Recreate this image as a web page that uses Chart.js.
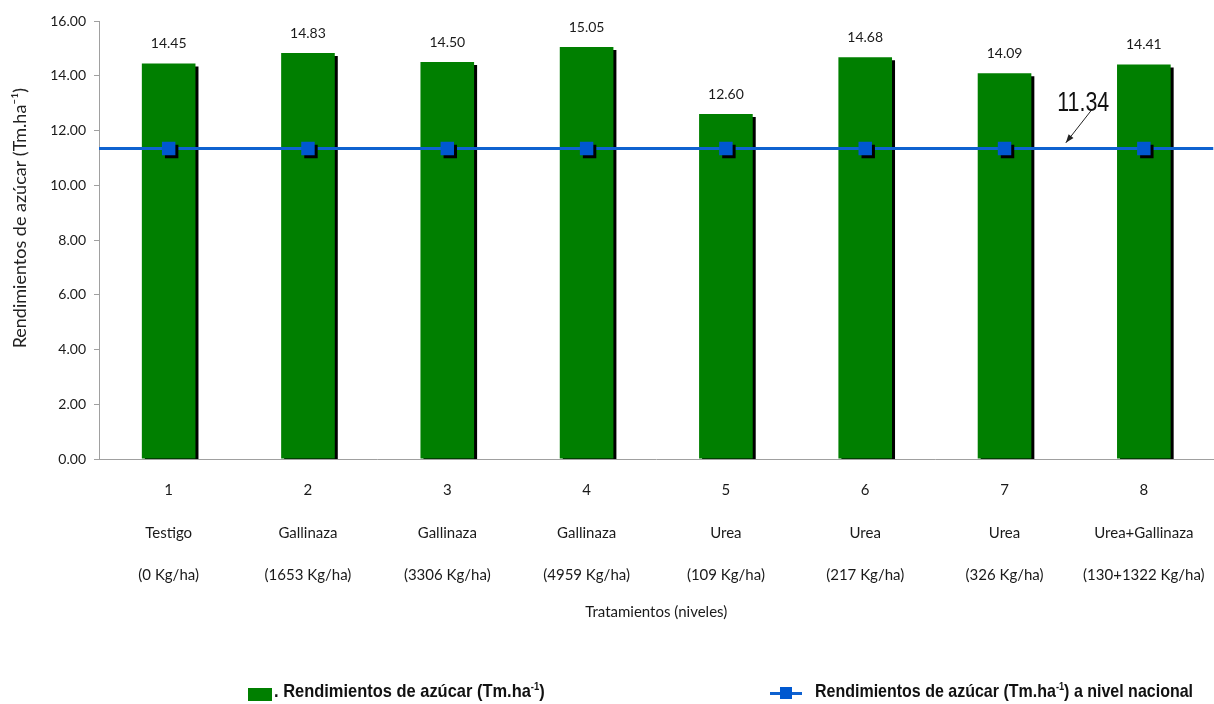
<!DOCTYPE html>
<html>
<head>
<meta charset="utf-8">
<script src="https://cdn.jsdelivr.net/npm/chart.js@4/dist/chart.umd.min.js"></script>
<style>
    html, body { margin: 0; padding: 0; overflow: hidden; background: #fff; }
    #chart { position: absolute; left: 0; top: 0; }
    .legend { position: absolute; top: 680px; font-family: "Liberation Sans", Arial, sans-serif; font-weight: bold; font-size: 19px; color: #111; white-space: nowrap; transform-origin: 0 0; }
    .legend sup { font-size: 11px; }
    .box { position: absolute; left: 248px; top: 688px; width: 24px; height: 13px; background: #007f00; }
    .ln { position: absolute; left: 770px; top: 692px; width: 32px; height: 3px; background: #0f62d0; }
    .sq { position: absolute; left: 780px; top: 687px; width: 12px; height: 12px; background: #0058d0; }
</style>
</head>
<body>
<canvas id="chart" width="1223" height="704"></canvas>
<div class="box"></div>
<div class="legend" id="leg1" style="left:274px">. Rendimientos de azúcar (Tm.ha<sup>-1</sup>)</div>
<div class="ln"></div>
<div class="sq"></div>
<div class="legend" id="leg2" style="left:815px">Rendimientos de azúcar (Tm.ha<sup>-1</sup>) a nivel nacional</div>
<script>
// data
const numeros = ['1', '2', '3', '4', '5', '6', '7', '8'];
const tratamientos = ['Testigo', 'Gallinaza', 'Gallinaza', 'Gallinaza', 'Urea', 'Urea', 'Urea', 'Urea+Gallinaza'];
const dosis = ['(0 Kg/ha)', '(1653 Kg/ha)', '(3306 Kg/ha)', '(4959 Kg/ha)', '(109 Kg/ha)', '(217 Kg/ha)', '(326 Kg/ha)', '(130+1322 Kg/ha)'];
const rendimientos = [14.45, 14.83, 14.50, 15.05, 12.60, 14.68, 14.09, 14.41];
const nacional = [11.34, 11.34, 11.34, 11.34, 11.34, 11.34, 11.34, 11.34];
const yTicks = [0, 2, 4, 6, 8, 10, 12, 14, 16];

const labels = numeros.map((n, i) => [n, tratamientos[i], dosis[i]]);

// squeeze the legend texts to the narrow look of the original
function squeeze(id, w) {
    const el = document.getElementById(id);
    el.style.transform = 'scaleX(' + (w / el.offsetWidth) + ')';
}
squeeze('leg1', 271);
squeeze('leg2', 378);

// black drop shadow behind bars and markers
const shadowPlugin = {
    id: 'shadow',
    beforeDatasetDraw(chart, args) {
        if (!chart.data.datasets[args.index].shadow) return;
        const ctx = chart.ctx;
        ctx.save();
        ctx.shadowColor = '#000';
        ctx.shadowOffsetX = 3;
        ctx.shadowOffsetY = 3;
        ctx.shadowBlur = 0;
    },
    afterDatasetDraw(chart, args) {
        if (!chart.data.datasets[args.index].shadow) return;
        chart.ctx.restore();
    }
};

// value labels, y title and the 11.34 callout
const labelPlugin = {
    id: 'labels',
    afterDatasetsDraw(chart) {
        const ctx = chart.ctx;
        const meta = chart.getDatasetMeta(2);
        const x = chart.scales.x, y = chart.scales.y;
        ctx.save();
        ctx.fillStyle = '#1a1a1a';
        ctx.font = '14px Lato';
        ctx.textAlign = 'center';
        ctx.textBaseline = 'middle';
        meta.data.forEach((bar, i) => {
            ctx.fillText(rendimientos[i].toFixed(2), bar.x, bar.y - 20);
        });

        // y axis title
        ctx.save();
        ctx.translate(20, y.getPixelForValue(8.8));
        ctx.rotate(-Math.PI / 2);
        ctx.font = '18px Lato';
        ctx.fillStyle = '#222';
        ctx.fillText('Rendimientos de azúcar (Tm.ha⁻¹)', 0, 0);
        ctx.restore();

        // callout
        const txt = nacional[7].toFixed(2);
        ctx.save();
        ctx.font = '28px "Liberation Sans", Arial, sans-serif';
        const sx = 52 / ctx.measureText(txt).width;
        ctx.translate(x.getPixelForValue(6.565), y.getPixelForValue(13.0));
        ctx.scale(sx, 1);
        ctx.fillStyle = '#111';
        ctx.fillText(txt, 0, 0);
        ctx.restore();

        // arrow
        const x1 = x.getPixelForValue(6.625), y1 = y.getPixelForValue(12.75);
        const x2 = x.getPixelForValue(6.44), y2 = y.getPixelForValue(11.55);
        ctx.strokeStyle = '#222';
        ctx.fillStyle = '#222';
        ctx.lineWidth = 1;
        ctx.beginPath();
        ctx.moveTo(x1, y1);
        ctx.lineTo(x2, y2);
        ctx.stroke();
        const a = Math.atan2(y2 - y1, x2 - x1);
        ctx.beginPath();
        ctx.moveTo(x2, y2);
        ctx.lineTo(x2 - 9 * Math.cos(a - 0.35), y2 - 9 * Math.sin(a - 0.35));
        ctx.lineTo(x2 - 9 * Math.cos(a + 0.35), y2 - 9 * Math.sin(a + 0.35));
        ctx.closePath();
        ctx.fill();
        ctx.restore();
    }
};

const ctx = document.getElementById('chart').getContext('2d');
new Chart(ctx, {
    type: 'bar',
    data: {
        labels: labels,
        datasets: [
            {
                type: 'line',
                label: 'marcadores',
                data: nacional,
                showLine: false,
                pointStyle: 'rect',
                pointRadius: 9.5,
                pointHoverRadius: 9.5,
                pointBackgroundColor: '#0058d0',
                pointBorderWidth: 0,
                shadow: true
            },
            {
                type: 'line',
                label: 'Rendimientos de azúcar (Tm.ha-1) a nivel nacional',
                data: [{ x: 0, y: nacional[0] }, { x: 1, y: nacional[7] }],
                xAxisID: 'x2',
                borderColor: '#0f62d0',
                borderWidth: 3,
                pointRadius: 0
            },
            {
                type: 'bar',
                label: '. Rendimientos de azúcar (Tm.ha-1)',
                data: rendimientos,
                backgroundColor: '#007f00',
                borderWidth: 0,
                grouped: false,
                barPercentage: 0.385,
                categoryPercentage: 1.0,
                shadow: true
            }
        ]
    },
    options: {
        responsive: false,
        animation: false,
        layout: { padding: { top: 21, bottom: 83, left: 0, right: 0 } },
        plugins: {
            legend: { display: false },
            tooltip: { enabled: false }
        },
        scales: {
            x: {
                type: 'category',
                offset: true,
                grid: { display: false, drawTicks: false },
                border: { color: '#a0a0a0', width: 1 },
                ticks: {
                    autoSkip: false,
                    maxRotation: 0,
                    padding: 10,
                    color: '#1a1a1a',
                    font: { family: 'Lato', size: 15, lineHeight: 2.83 }
                },
                title: {
                    display: true,
                    text: 'Tratamientos (niveles)',
                    color: '#1a1a1a',
                    font: { family: 'Lato', size: 15 },
                    padding: 0
                },
                afterFit: s => { s.height = 162; }
            },
            x2: { type: 'linear', min: 0, max: 1, offset: false, display: false },
            y: {
                min: yTicks[0],
                max: yTicks[yTicks.length - 1],
                afterBuildTicks: s => { s.ticks = yTicks.map(v => ({ value: v })); },
                grid: { drawOnChartArea: false, drawTicks: true, tickLength: 5, color: '#a0a0a0' },
                border: { color: '#a0a0a0', width: 1 },
                ticks: {
                    padding: 8,
                    color: '#1a1a1a',
                    font: { family: 'Lato', size: 14 },
                    callback: v => v.toFixed(2)
                },
                afterFit: s => { s.width = 99; }
            }
        }
    },
    plugins: [shadowPlugin, labelPlugin]
});
</script>
</body>
</html>
